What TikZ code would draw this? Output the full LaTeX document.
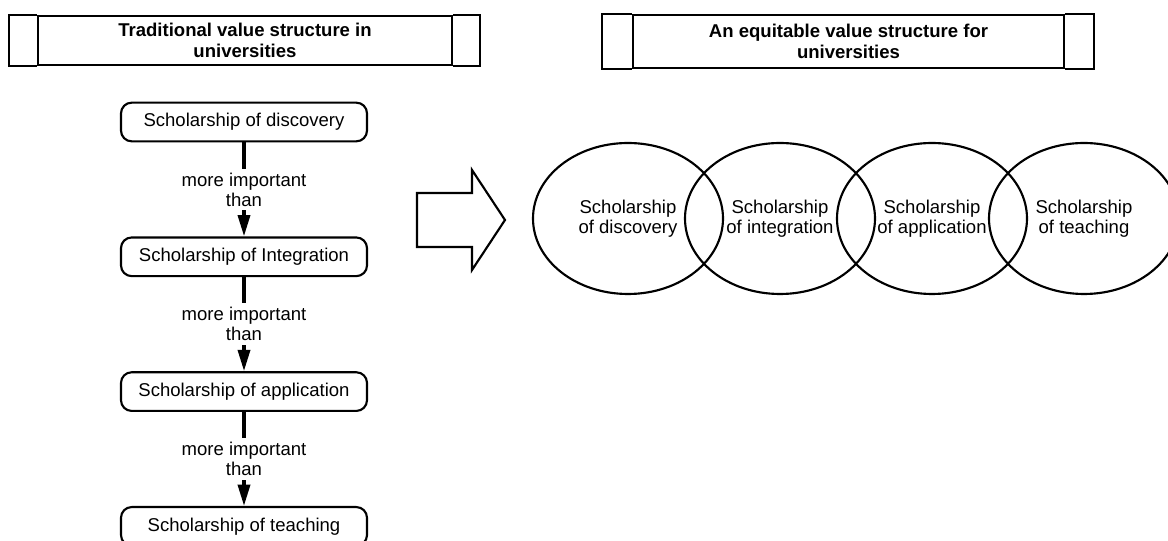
\documentclass[tikz,border=0pt]{standalone}
\usepackage{fontspec}
\setmainfont{Liberation Sans}
\usetikzlibrary{positioning,arrows.meta,shapes.geometric}

\begin{document}
\begin{tikzpicture}[x=0.75pt,y=0.75pt,
  every node/.style={font=\fontsize{13.9}{15}\selectfont, align=center},
  head/.style={draw, line width=1.6pt, minimum height=37pt,
    font=\fontsize{13.9}{15.5}\selectfont\bfseries},
  scholar/.style={draw, line width=1.6pt, rounded corners=8pt,
    minimum width=184.5pt, minimum height=29pt},
  link/.style={line width=2.6pt, -{Triangle[length=16pt,width=9pt]}},
  circ/.style={draw, ellipse, line width=1.6pt, inner sep=0pt,
    minimum width=142.5pt, minimum height=113.25pt},
  node distance=70.5pt]
  \useasboundingbox (0,0) rectangle (1168,-541);

  % headings
  \node[head, minimum width=310.5pt] (lhead) at (245,-40.5)
    {Traditional value structure in\\universities};
  \draw[line width=1.6pt] (lhead.north west) -- ++(-28,0) |- (lhead.south west);
  \draw[line width=1.6pt] (lhead.north east) -- ++(27,0) |- (lhead.south east);
  \node[head, minimum width=323.25pt, minimum height=40pt] (rhead) at (848.5,-41.5)
    {An equitable value structure for\\universities};
  \draw[line width=1.6pt] (rhead.north west) -- ++(-30,0) |- (rhead.south west);
  \draw[line width=1.6pt] (rhead.north east) -- ++(29,0) |- (rhead.south east);

  % traditional ranking
  \node[scholar] (disc) at (244,-122) {Scholarship of discovery};
  \node[scholar, below=of disc] (integ) {Scholarship of Integration};
  \node[scholar, below=of integ] (appl) {Scholarship of application};
  \node[scholar, below=of appl] (teach) {Scholarship of teaching};
  \draw[link] (disc) -- node[fill=white, inner sep=3pt] {more important\\than} (integ);
  \draw[link] (integ) -- node[fill=white, inner sep=3pt] {more important\\than} (appl);
  \draw[link] (appl) -- node[fill=white, inner sep=3pt] {more important\\than} (teach);

  % big arrow
  \draw[line width=1.6pt] (417,-193) -- (472,-193) -- (472,-170) -- (505,-220)
    -- (472,-270) -- (472,-247) -- (417,-247) -- cycle;

  % equitable structure
  \node[circ] (edisc) at (628,-218.5) {Scholarship\\of discovery};
  \node[circ] (einteg) at (780,-218.5) {Scholarship\\of integration};
  \node[circ] (eappl) at (932,-218.5) {Scholarship\\of application};
  \node[circ] (eteach) at (1084,-218.5) {Scholarship\\of teaching};
\end{tikzpicture}
\end{document}
